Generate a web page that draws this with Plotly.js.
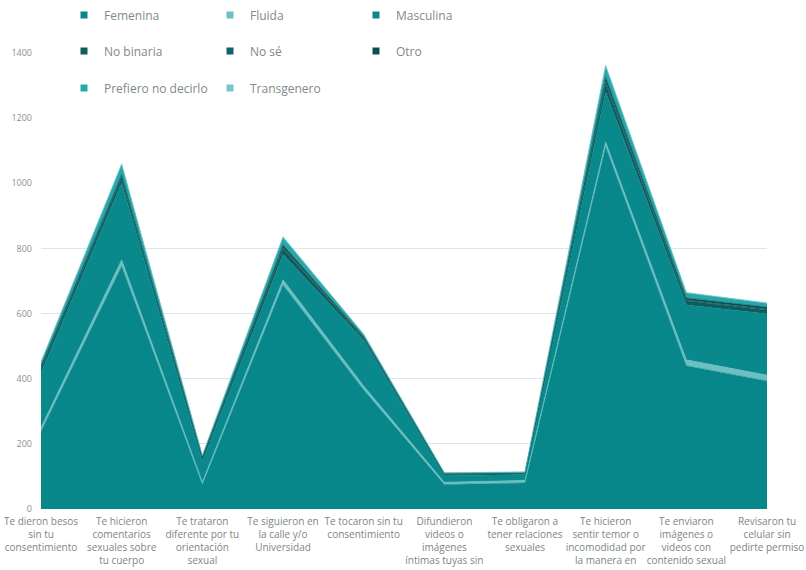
<!DOCTYPE html>
<html><head><meta charset="utf-8">
<script src="https://cdn.plot.ly/plotly-3.0.1.min.js"></script>
<style>html,body{margin:0;padding:0;background:#fff}#chart{width:806px;height:570px}</style>
</head><body><div id="chart"></div>
<script>
const categories = [
  "Te dieron besos sin tu consentimiento",
  "Te hicieron comentarios sexuales sobre tu cuerpo",
  "Te trataron diferente por tu orientación sexual",
  "Te siguieron en la calle y/o Universidad",
  "Te tocaron sin tu consentimiento",
  "Difundieron videos o imágenes íntimas tuyas sin tu consentimiento",
  "Te obligaron a tener relaciones sexuales",
  "Te hicieron sentir temor o incomodidad por la manera en que te miraban",
  "Te enviaron imágenes o videos con contenido sexual",
  "Revisaron tu celular sin pedirte permiso"
];
const tickLabels = [
  "Te dieron besos<br>sin tu<br>consentimiento",
  "Te hicieron<br>comentarios<br>sexuales sobre<br>tu cuerpo",
  "Te trataron<br>diferente por tu<br>orientación<br>sexual",
  "Te siguieron en<br>la calle y/o<br>Universidad",
  "Te tocaron sin tu<br>consentimiento",
  "Difundieron<br>videos o<br>imágenes<br>íntimas tuyas sin",
  "Te obligaron a<br>tener relaciones<br>sexuales",
  "Te hicieron<br>sentir temor o<br>incomodidad por<br>la manera en",
  "Te enviaron<br>imágenes o<br>videos con<br>contenido sexual",
  "Revisaron tu<br>celular sin<br>pedirte permiso"
];
const seriesNames = ["Femenina","Fluida","Masculina","No binaria","No sé","Otro","Prefiero no decirlo","Transgenero"];
const femenina   = [238, 745, 75, 688, 366, 75, 80, 1112, 440, 393];
const fluida     = [12, 20, 8, 16, 12, 7, 8, 15, 18, 18];
const masculina  = [168, 236, 62, 77, 140, 20, 18, 153, 168, 188];
const noBinaria  = [14, 15, 9, 18, 7, 3, 3, 25, 13, 12];
const noSe       = [3, 4, 2, 4, 2, 1, 1, 8, 3, 3];
const otro       = [5, 6, 3, 8, 3, 2, 1, 13, 6, 6];
const prefiero   = [10, 30, 5, 22, 6, 3, 2, 32, 15, 11];
const transgenero= [2, 4, 1, 3, 1, 1, 1, 5, 2, 2];
const yTicks = [0, 200, 400, 600, 800, 1000, 1200, 1400];
const gridTicks = [200, 400, 600, 800];

const seriesValues = [femenina, fluida, masculina, noBinaria, noSe, otro, prefiero, transgenero];
const colors = ["#08878a","#6cc0c2","#0a898c","#0d5d5f","#0e6466","#0a5052","#27a7aa","#76c7c9"];
const legendOf = ["legend","legend","legend","legend2","legend2","legend2","legend3","legend3"];

const traces = [];
seriesNames.forEach((name, i) => {
  traces.push({
    type: "scatter", mode: "lines", x: categories, y: seriesValues[i],
    stackgroup: "one", name: name, showlegend: false,
    line: {color: colors[i], width: 0.5}, fillcolor: colors[i],
    hoverinfo: "x+y+name"
  });
});
seriesNames.forEach((name, i) => {
  traces.push({
    type: "scatter", mode: "markers", x: [null], y: [null], name: name,
    legend: legendOf[i], showlegend: true,
    marker: {symbol: "square", size: 7, color: colors[i]}
  });
});
// empty trace to carry the overlay axis used for gridlines
traces.push({type: "scatter", mode: "markers", x: [null], y: [null], yaxis: "y2", showlegend: false, hoverinfo: "skip"});

const L = 41, R = 767, T = 53, B = 509.5;
const W = 806, H = 570;
const px = v => (v - L) / (R - L);
const py = v => (B - v) / (B - T);
const legFont = {family: "Open Sans, sans-serif", size: 12, color: "#808a8a"};
const mkLegend = (yy) => ({
  orientation: "h", x: px(64), xanchor: "left", y: py(yy), yanchor: "middle",
  entrywidth: 101, entrywidthmode: "pixels", itemwidth: 30, traceorder: "normal",
  font: legFont, bgcolor: "rgba(0,0,0,0)", borderwidth: 0
});

const layout = {
  width: W, height: H,
  margin: {l: L, r: W - R, t: T, b: H - B, autoexpand: false},
  paper_bgcolor: "#ffffff", plot_bgcolor: "#ffffff",
  showlegend: true,
  xaxis: {
    type: "category", range: [0, categories.length - 1],
    tickmode: "array", tickvals: categories, ticktext: tickLabels,
    showgrid: false, zeroline: false, showline: false, ticks: "",
    tickangle: 0, automargin: false, ticklabelstandoff: 5,
    tickfont: {family: "Open Sans, sans-serif", size: 10, color: "#7d8585"}
  },
  yaxis: {
    range: [0, 1400], tickmode: "array", tickvals: yTicks,
    showgrid: false, zeroline: false, showline: false, ticks: "", automargin: false,
    ticklabelstandoff: 8,
    tickfont: {family: "Open Sans, sans-serif", size: 9, color: "#8a9090"}
  },
  yaxis2: {
    overlaying: "y", side: "left", range: [0, 1400], tickmode: "array", tickvals: gridTicks,
    showgrid: true, gridcolor: "#d3eaec", gridwidth: 1, showticklabels: false,
    zeroline: false, showline: false, ticks: "", automargin: false
  },
  legend: mkLegend(15),
  legend2: mkLegend(51),
  legend3: mkLegend(88)
};

Plotly.newPlot("chart", traces, layout, {displayModeBar: false, staticPlot: true});
</script>
</body></html>
